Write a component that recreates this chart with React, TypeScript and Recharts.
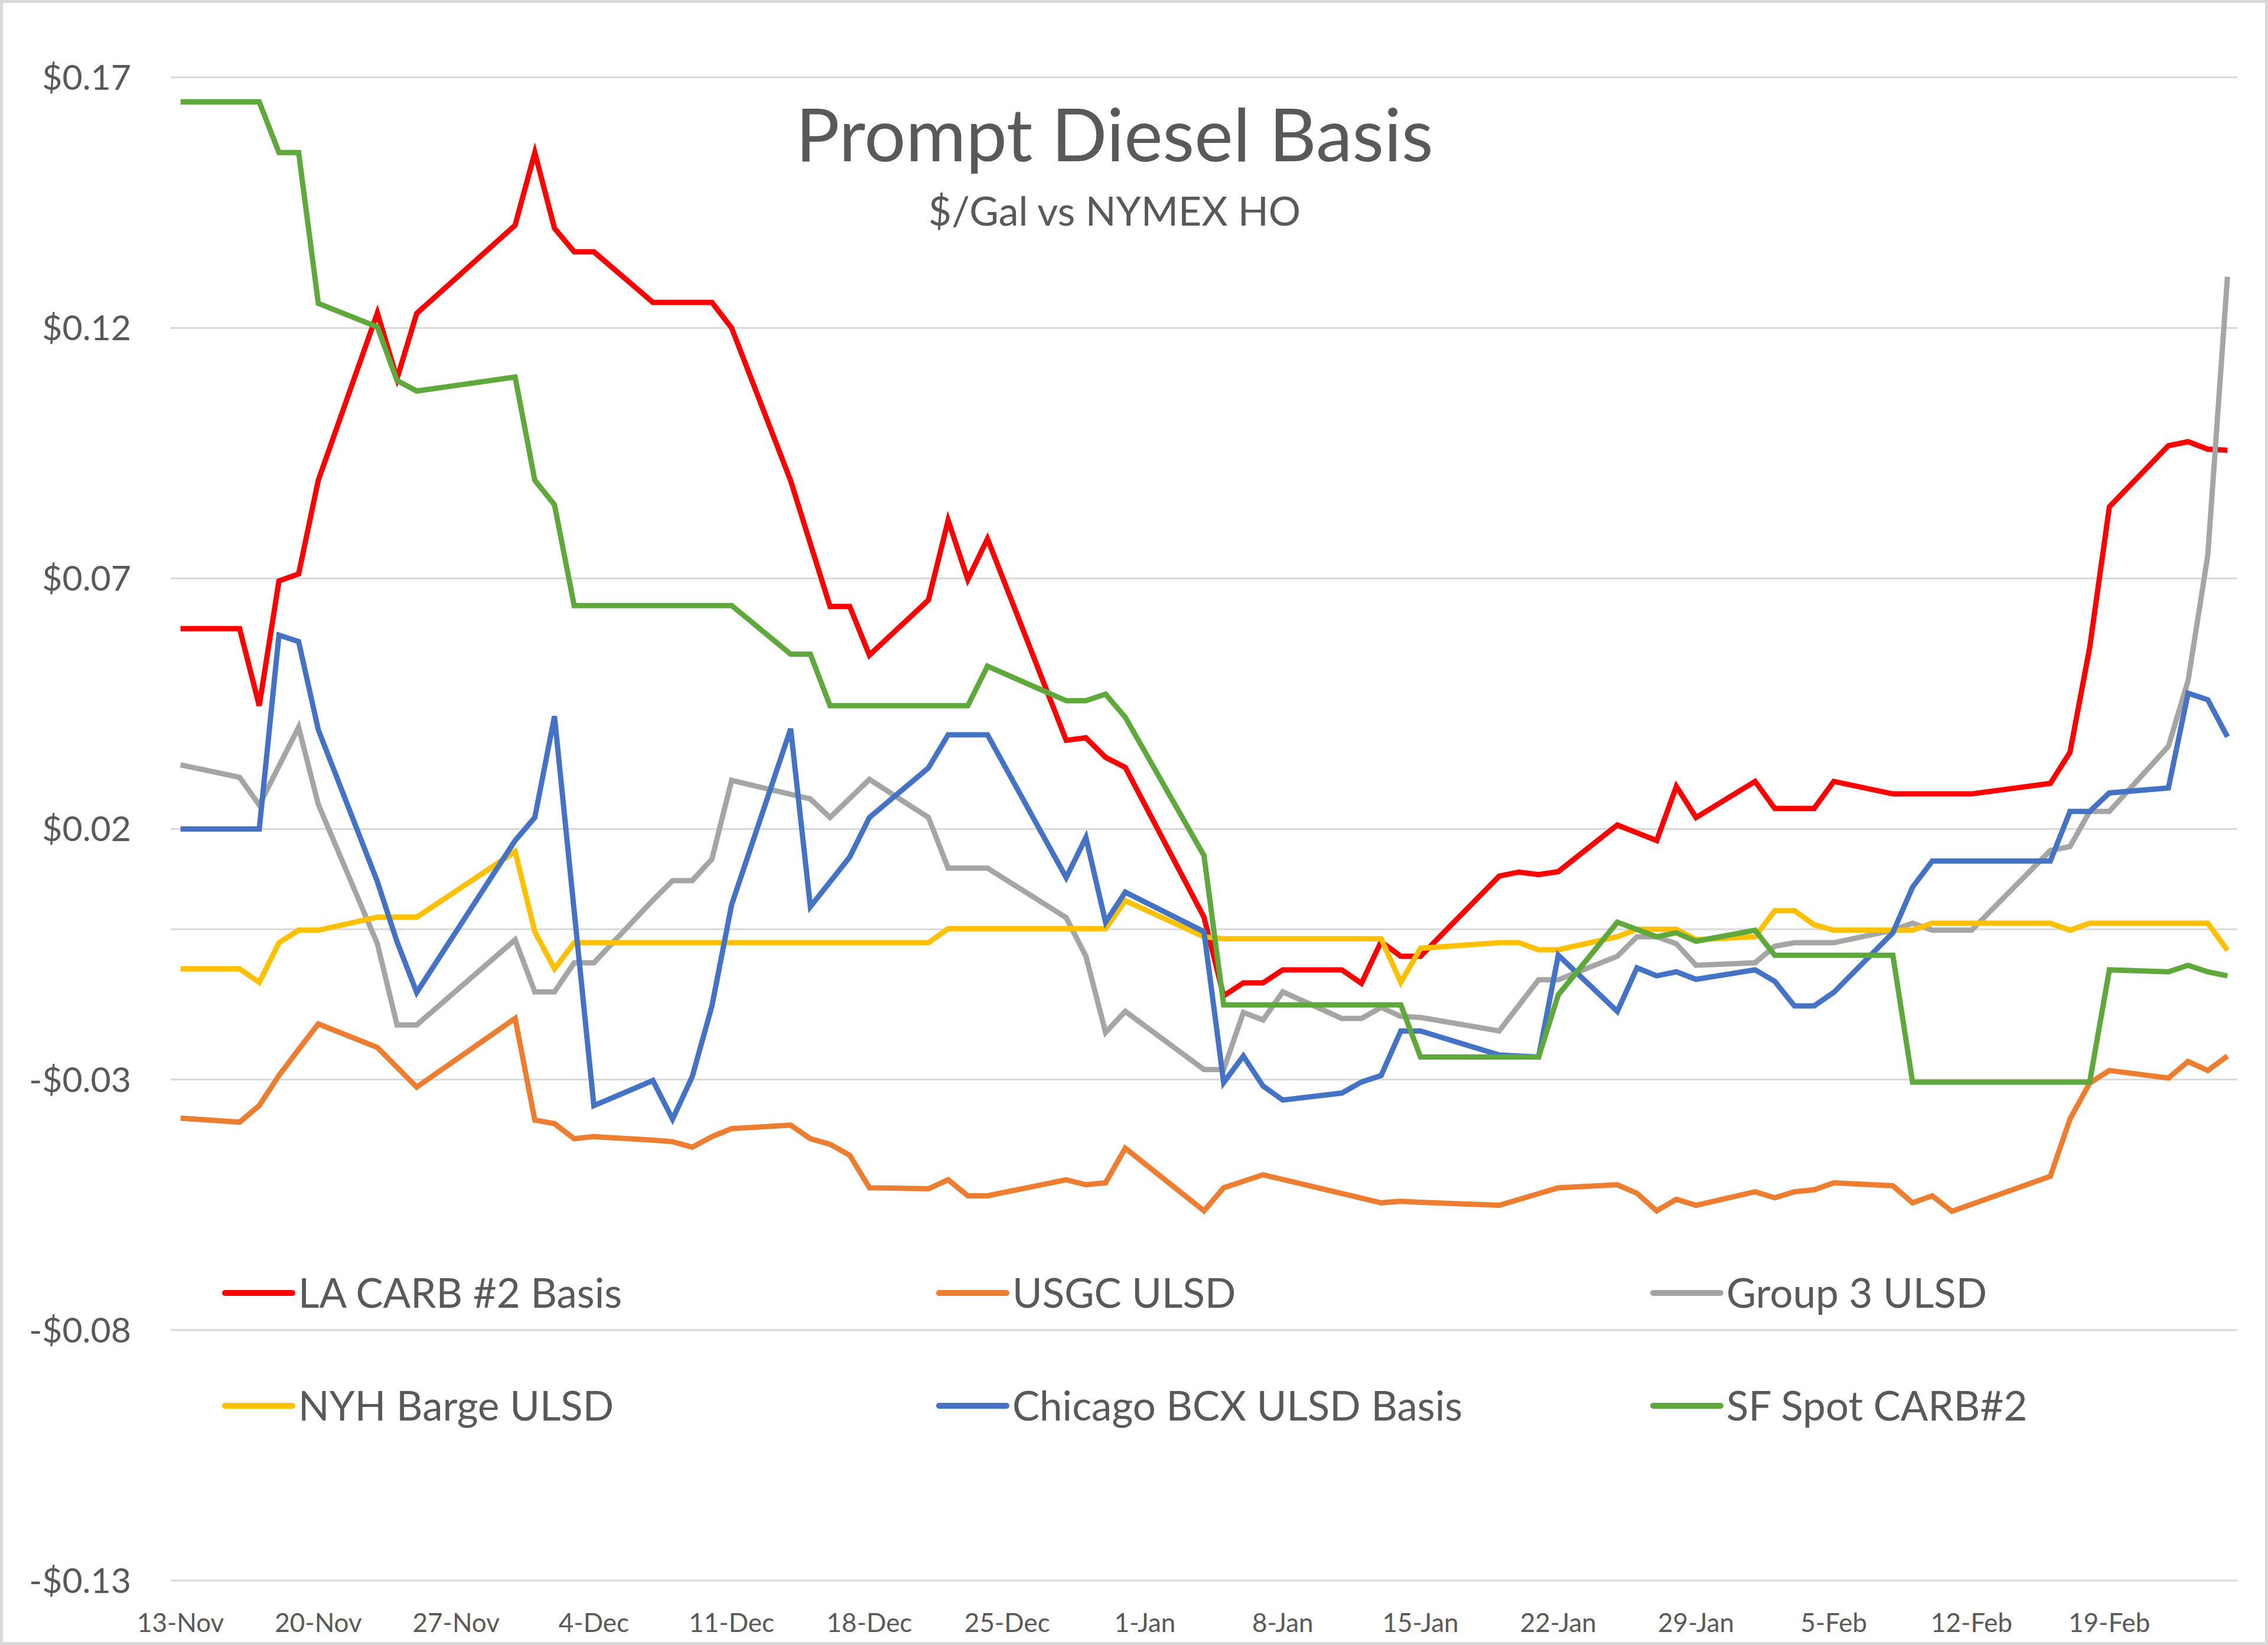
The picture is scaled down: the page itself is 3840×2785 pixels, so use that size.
import React from 'react';
import { LineChart, Line, XAxis, YAxis, CartesianGrid, ReferenceLine } from 'recharts';

// x positions are days since 13-Nov
const WEEK_TICKS = [0, 7, 14, 21, 28, 35, 42, 49, 56, 63, 70, 77, 84, 91, 98];
const WEEK_LABELS = ['13-Nov', '20-Nov', '27-Nov', '4-Dec', '11-Dec', '18-Dec', '25-Dec', '1-Jan', '8-Jan', '15-Jan', '22-Jan', '29-Jan', '5-Feb', '12-Feb', '19-Feb'];
const Y_TICKS = [-0.13, -0.08, -0.03, 0.02, 0.07, 0.12, 0.17];

const laDays = [0, 3, 4, 5, 6, 7, 10, 11, 12, 17, 18, 19, 20, 21, 24, 27, 28, 31, 33, 34, 35, 38, 39, 40, 41, 45, 46, 47, 48, 52, 53, 54, 55, 56, 59, 60, 61, 62, 63, 67, 68, 69, 70, 73, 75, 76, 77, 80, 81, 83, 84, 87, 91, 95, 96, 97, 98, 101, 102, 103, 104];
const laValues = [0.06, 0.06, 0.0446, 0.0695, 0.0709, 0.0896, 0.123, 0.1099, 0.1229, 0.1405, 0.155, 0.1399, 0.1352, 0.1352, 0.1251, 0.1251, 0.12, 0.0895, 0.0644, 0.0644, 0.0547, 0.0657, 0.0816, 0.0698, 0.0779, 0.0377, 0.0382, 0.0343, 0.0323, 0.0024, -0.0133, -0.0107, -0.0107, -0.0081, -0.0081, -0.0108, -0.0025, -0.0054, -0.0054, 0.0106, 0.0114, 0.0109, 0.0115, 0.0208, 0.0177, 0.0285, 0.0223, 0.0295, 0.0241, 0.0241, 0.0295, 0.027, 0.027, 0.0291, 0.0353, 0.0562, 0.0843, 0.0965, 0.0973, 0.0958, 0.0956];

const usgcDays = [0, 3, 4, 5, 6, 7, 10, 12, 17, 18, 19, 20, 21, 24, 25, 26, 27, 28, 31, 32, 33, 34, 35, 38, 39, 40, 41, 45, 46, 47, 48, 52, 53, 55, 61, 62, 63, 67, 70, 73, 74, 75, 76, 77, 80, 81, 82, 83, 84, 87, 88, 89, 90, 95, 96, 97, 98, 101, 102, 103, 104];
const usgcValues = [-0.0377, -0.0385, -0.0352, -0.0292, -0.024, -0.0189, -0.0236, -0.0315, -0.0178, -0.0381, -0.0388, -0.0418, -0.0414, -0.0421, -0.0424, -0.0435, -0.0414, -0.0398, -0.0391, -0.0418, -0.0429, -0.0451, -0.0516, -0.0518, -0.05, -0.0532, -0.0532, -0.05, -0.051, -0.0506, -0.0437, -0.0562, -0.0516, -0.049, -0.0546, -0.0543, -0.0545, -0.0551, -0.0516, -0.051, -0.0527, -0.0562, -0.0539, -0.0551, -0.0524, -0.0536, -0.0524, -0.052, -0.0506, -0.0512, -0.0546, -0.0532, -0.0563, -0.0493, -0.0379, -0.0307, -0.0282, -0.0297, -0.0264, -0.0282, -0.0253];

const g3Days = [0, 3, 4, 6, 7, 10, 11, 12, 17, 18, 19, 20, 21, 24, 25, 26, 27, 28, 32, 33, 35, 38, 39, 41, 45, 46, 47, 48, 52, 53, 54, 55, 56, 59, 60, 61, 62, 63, 67, 69, 70, 73, 74, 75, 76, 77, 80, 81, 82, 84, 87, 88, 89, 91, 95, 96, 97, 98, 101, 102, 103, 104];
const g3Values = [0.0328, 0.0303, 0.0248, 0.0403, 0.0249, -0.0029, -0.0191, -0.0191, -0.0021, -0.0125, -0.0125, -0.0067, -0.0067, 0.0058, 0.0097, 0.0097, 0.014, 0.0297, 0.026, 0.0223, 0.0299, 0.0223, 0.0122, 0.0122, 0.0023, -0.0054, -0.0206, -0.0164, -0.028, -0.028, -0.0166, -0.0181, -0.0125, -0.0178, -0.0178, -0.0156, -0.0174, -0.0176, -0.0203, -0.0101, -0.0101, -0.0054, -0.0015, -0.0015, -0.0029, -0.0072, -0.0067, -0.0034, -0.0027, -0.0027, -0.0002, 0.0012, -0.0002, -0.0002, 0.0157, 0.0165, 0.0235, 0.0235, 0.0365, 0.0496, 0.0746, 0.1302];

const nyhDays = [0, 3, 4, 5, 6, 7, 10, 12, 17, 18, 19, 20, 38, 39, 47, 48, 52, 53, 61, 62, 63, 67, 68, 69, 70, 73, 74, 76, 77, 80, 81, 82, 83, 84, 88, 89, 95, 96, 97, 103, 104];
const nyhValues = [-0.0079, -0.0079, -0.0106, -0.0027, -0.0002, -0.0002, 0.0024, 0.0024, 0.0155, -0.0005, -0.0079, -0.0027, -0.0027, 0.0001, 0.0001, 0.0057, -0.0015, -0.0019, -0.0019, -0.0106, -0.0038, -0.0027, -0.0027, -0.0041, -0.0041, -0.0015, 0.0, 0.0, -0.0021, -0.0015, 0.0037, 0.0037, 0.0009, -0.0002, -0.0002, 0.0012, 0.0012, -0.0002, 0.0012, 0.0012, -0.0042];

const chiDays = [0, 4, 5, 6, 7, 10, 11, 12, 17, 18, 19, 21, 24, 25, 26, 27, 28, 31, 32, 34, 35, 38, 39, 41, 45, 46, 47, 48, 52, 53, 54, 55, 56, 59, 60, 61, 62, 63, 67, 69, 70, 73, 74, 75, 76, 77, 80, 81, 82, 83, 84, 87, 88, 89, 95, 96, 97, 98, 101, 102, 103, 104];
const chiValues = [0.02, 0.02, 0.0587, 0.0574, 0.0398, 0.0095, -0.0025, -0.0126, 0.0177, 0.0223, 0.0425, -0.0352, -0.0302, -0.0379, -0.0294, -0.0153, 0.0049, 0.04, 0.0045, 0.0144, 0.0223, 0.0322, 0.0388, 0.0388, 0.0103, 0.0183, 0.0014, 0.0074, -0.0005, -0.0306, -0.0253, -0.0313, -0.0341, -0.0327, -0.0305, -0.0292, -0.0203, -0.0203, -0.0251, -0.0255, -0.0052, -0.0164, -0.0077, -0.0093, -0.0085, -0.01, -0.0081, -0.0104, -0.0153, -0.0153, -0.0126, -0.0007, 0.0084, 0.0136, 0.0136, 0.0235, 0.0235, 0.0272, 0.0282, 0.0471, 0.0458, 0.0384];

const sfDays = [0, 4, 5, 6, 7, 10, 11, 12, 17, 18, 19, 20, 28, 31, 32, 33, 40, 41, 45, 46, 47, 48, 52, 53, 62, 63, 69, 70, 73, 75, 76, 77, 80, 81, 87, 88, 97, 98, 101, 102, 103, 104];
const sfValues = [0.1651, 0.1651, 0.155, 0.155, 0.1249, 0.1202, 0.1095, 0.1074, 0.1102, 0.0896, 0.0847, 0.0646, 0.0646, 0.0549, 0.0549, 0.0446, 0.0446, 0.0525, 0.0456, 0.0456, 0.0469, 0.0423, 0.0147, -0.0151, -0.0151, -0.0255, -0.0255, -0.0131, 0.0014, -0.0015, -0.0007, -0.0024, -0.0002, -0.0052, -0.0052, -0.0305, -0.0305, -0.0081, -0.0085, -0.0072, -0.0085, -0.0093];

const SERIES = [
  { key: 'la', name: 'LA CARB #2 Basis', color: '#FF0000', days: laDays, values: laValues },
  { key: 'usgc', name: 'USGC ULSD', color: '#ED7D31', days: usgcDays, values: usgcValues },
  { key: 'g3', name: 'Group 3 ULSD', color: '#A5A5A5', days: g3Days, values: g3Values },
  { key: 'nyh', name: 'NYH Barge ULSD', color: '#FFC000', days: nyhDays, values: nyhValues },
  { key: 'chi', name: 'Chicago BCX ULSD Basis', color: '#4472C4', days: chiDays, values: chiValues },
  { key: 'sf', name: 'SF Spot CARB#2', color: '#5FA83B', days: sfDays, values: sfValues },
];

// merge every series onto one day-keyed table
const allDays = Array.from(new Set(SERIES.flatMap((s) => s.days))).sort((a, b) => a - b);
const chartData = allDays.map((day) => {
  const row: Record<string, number> = { day };
  SERIES.forEach((s) => {
    const i = s.days.indexOf(day);
    if (i >= 0) row[s.key] = s.values[i];
  });
  return row;
});

const FONT = 'Lato, "Open Sans", sans-serif';
const TEXT = '#595959';

const fmtMoney = (v: number) => {
  const s = Math.abs(v).toFixed(2);
  return v < 0 ? `-$${s}` : `$${s}`;
};

// legend grid: 3 columns, 2 rows
const LEGEND_COLS = [381, 1590, 2799];
const LEGEND_ROWS = [2189, 2380];

export default function App() {
  return (
    <div style={{ position: 'absolute', left: 0, top: 0, width: 3840, height: 2785, background: '#fff' }}>
      <LineChart width={3840} height={2785} data={chartData} margin={{ top: 131, right: 52, bottom: 0, left: 0 }}>
        <CartesianGrid vertical={false} stroke="#D9D9D9" strokeWidth={3} />
        <XAxis
          dataKey="day"
          type="number"
          domain={[-0.5, 104.5]}
          ticks={WEEK_TICKS}
          tickFormatter={(v) => WEEK_LABELS[WEEK_TICKS.indexOf(v)] ?? ''}
          axisLine={false}
          tickLine={false}
          tickSize={0}
          tickMargin={56}
          height={109}
          interval={0}
          allowDataOverflow
          tick={{ fontFamily: FONT, fontSize: 44, fill: TEXT }}
        />
        <YAxis
          type="number"
          domain={[-0.13, 0.17]}
          ticks={Y_TICKS}
          tickFormatter={fmtMoney}
          axisLine={false}
          tickLine={false}
          tickSize={0}
          tickMargin={67}
          width={289}
          interval={0}
          allowDataOverflow
          tick={{ fontFamily: FONT, fontSize: 59, fill: TEXT }}
        />
        <ReferenceLine y={0} stroke="#D9D9D9" strokeWidth={3} />
        {SERIES.map((s) => (
          <Line
            key={s.key}
            dataKey={s.key}
            name={s.name}
            stroke={s.color}
            strokeWidth={9}
            dot={false}
            connectNulls
            isAnimationActive={false}
          />
        ))}
      </LineChart>

      <svg width={3840} height={2785} style={{ position: 'absolute', left: 0, top: 0, pointerEvents: 'none' }}>
        <text x={1887} y={273} textAnchor="middle" fontFamily={FONT} fontSize={124} fill={TEXT}>
          Prompt Diesel Basis
        </text>
        <text x={1887} y={382} textAnchor="middle" fontFamily={FONT} fontSize={68} fill={TEXT}>
          $/Gal vs NYMEX HO
        </text>
        {SERIES.map((s, i) => {
          const x = LEGEND_COLS[i % 3];
          const y = LEGEND_ROWS[Math.floor(i / 3)];
          return (
            <g key={s.key}>
              <line x1={x} x2={x + 114} y1={y} y2={y} stroke={s.color} strokeWidth={10} strokeLinecap="round" />
              <text x={x + 124} y={y + 25} fontFamily={FONT} fontSize={69} fill={TEXT}>
                {s.name}
              </text>
            </g>
          );
        })}
      </svg>

      <div
        style={{
          position: 'absolute',
          left: 0,
          top: 0,
          width: 3840,
          height: 2785,
          border: '5px solid #D9D9D9',
          boxSizing: 'border-box',
          pointerEvents: 'none',
        }}
      />
    </div>
  );
}
